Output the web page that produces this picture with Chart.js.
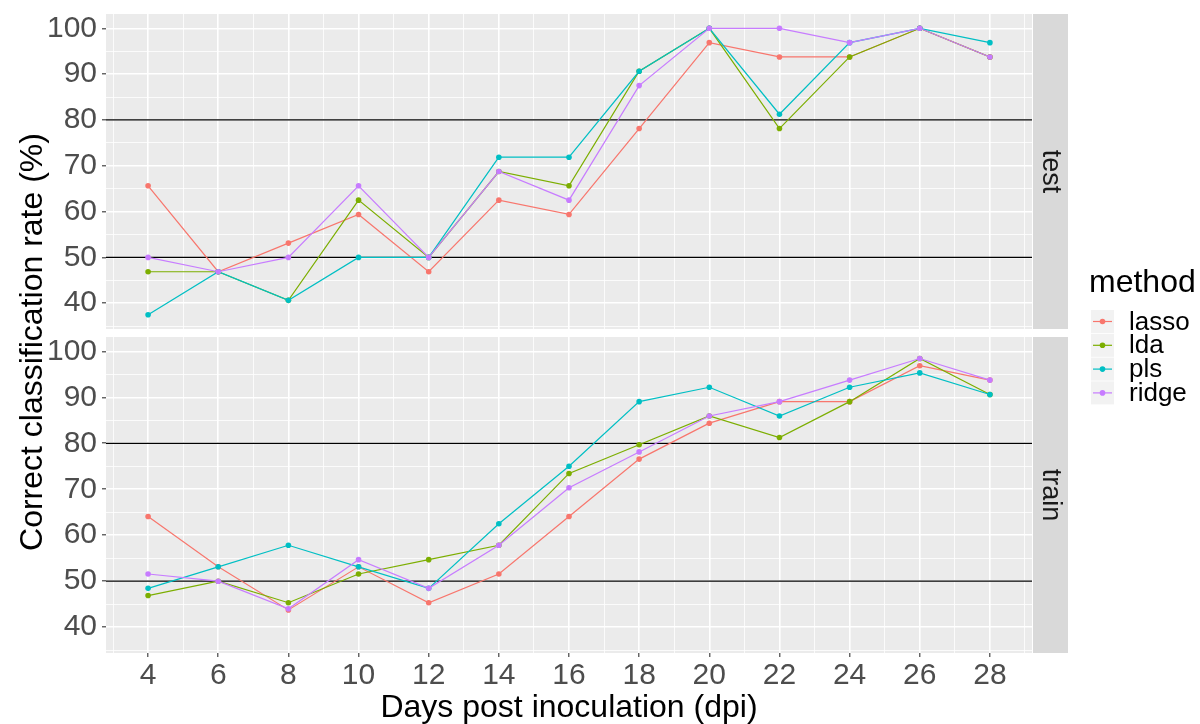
<!DOCTYPE html>
<html lang="en">
<head>
<meta charset="UTF-8">
<title>Correct classification rate by dpi</title>
<script src="https://cdn.jsdelivr.net/npm/chart.js"></script>
<style>
  body { margin: 0; background: #fff; }
  #wrap { position: relative; width: 1200px; height: 724px; }
  #wrap canvas { position: absolute; left: 0; top: 0; }
</style>
</head>
<body>
<div id="wrap">
  <canvas id="testChart" width="1200" height="724"></canvas>
  <canvas id="trainChart" width="1200" height="724"></canvas>
</div>
<script>
  // data
  const dpi = [4, 6, 8, 10, 12, 14, 16, 18, 20, 22, 24, 26, 28];
  const methods = ["lasso", "lda", "pls", "ridge"];
  const colors = ["#F8766D", "#7CAE00", "#00BFC4", "#C77CFF"];

  const testLasso = [65.625, 46.875, 53.125, 59.375, 46.875, 62.5, 59.375, 78.125, 96.875, 93.75, 93.75, 100, 93.75];
  const testLda   = [46.875, 46.875, 40.625, 62.5, 50, 68.75, 65.625, 90.625, 100, 78.125, 93.75, 100, 93.75];
  const testPls   = [37.5, 46.875, 40.625, 50, 50, 71.875, 71.875, 90.625, 100, 81.25, 96.875, 100, 96.875];
  const testRidge = [50, 46.875, 50, 65.625, 50, 68.75, 62.5, 87.5, 100, 100, 96.875, 100, 93.75];

  const trainLasso = [64.0625, 53.125, 43.75, 53.125, 45.3125, 51.5625, 64.0625, 76.5625, 84.375, 89.0625, 89.0625, 96.875, 93.75];
  const trainLda   = [46.875, 50, 45.3125, 51.5625, 54.6875, 57.8125, 73.4375, 79.6875, 85.9375, 81.25, 89.0625, 98.4375, 90.625];
  const trainPls   = [48.4375, 53.125, 57.8125, 53.125, 48.4375, 62.5, 75, 89.0625, 92.1875, 85.9375, 92.1875, 95.3125, 90.625];
  const trainRidge = [51.5625, 50, 44, 54.6875, 48.4375, 57.8125, 70.3125, 78.125, 85.9375, 89.0625, 93.75, 98.4375, 93.75];

  const refLines = [50, 80];
  const yTicks = [35, 40, 45, 50, 55, 60, 65, 70, 75, 80, 85, 90, 95, 100];
  const xTicks = [3, 4, 5, 6, 7, 8, 9, 10, 11, 12, 13, 14, 15, 16, 17, 18, 19, 20, 21, 22, 23, 24, 25, 26, 27, 28, 29];

  const FONT = "'Liberation Sans', Arial, sans-serif";

  // ggplot style 5% expansion
  const allY = [].concat(testLasso, testLda, testPls, testRidge, trainLasso, trainLda, trainPls, trainRidge);
  const yLo = Math.min(...allY), yHi = Math.max(...allY);
  const yMin = yLo - (yHi - yLo) * 0.05, yMax = yHi + (yHi - yLo) * 0.05;
  const xMin = dpi[0] - (dpi[dpi.length - 1] - dpi[0]) * 0.05;
  const xMax = dpi[dpi.length - 1] + (dpi[dpi.length - 1] - dpi[0]) * 0.05;

  function makeDatasets(series) {
    return series.map((vals, i) => ({
      label: methods[i],
      data: dpi.map((d, j) => ({ x: d, y: vals[j] })),
      borderColor: colors[i],
      backgroundColor: colors[i],
      pointBackgroundColor: colors[i],
      pointBorderColor: colors[i],
      borderWidth: 1.2,
      pointRadius: 2.8,
      pointBorderWidth: 0,
      tension: 0,
      order: methods.length - i
    }));
  }

  // panel background, facet strip and the reference lines
  const panelPlugin = {
    id: "panel",
    beforeDraw(chart, args, opts) {
      const { ctx, chartArea: a } = chart;
      ctx.save();
      ctx.fillStyle = "#EBEBEB";
      ctx.fillRect(a.left, a.top, a.right - a.left, a.bottom - a.top);
      ctx.fillStyle = "#D9D9D9";
      ctx.fillRect(a.right + 1, a.top, 35, a.bottom - a.top);
      ctx.translate(a.right + 18, (a.top + a.bottom) / 2);
      ctx.rotate(Math.PI / 2);
      ctx.fillStyle = "#1A1A1A";
      ctx.font = "27px " + FONT;
      ctx.textAlign = "center";
      ctx.textBaseline = "middle";
      ctx.fillText(opts.label, 0, 0);
      ctx.restore();
    },
    beforeDatasetsDraw(chart) {
      const { ctx, chartArea: a, scales } = chart;
      ctx.save();
      ctx.strokeStyle = "#000";
      ctx.lineWidth = 1.3;
      refLines.forEach(v => {
        const py = scales.y.getPixelForValue(v);
        ctx.beginPath();
        ctx.moveTo(a.left, py);
        ctx.lineTo(a.right, py);
        ctx.stroke();
      });
      ctx.restore();
    }
  };

  // shared y title and the legend, drawn on the top canvas
  const decorPlugin = {
    id: "decor",
    afterDraw(chart) {
      const ctx = chart.ctx;
      ctx.save();
      ctx.translate(42, 342);
      ctx.rotate(-Math.PI / 2);
      ctx.fillStyle = "#000";
      ctx.font = "32px " + FONT;
      ctx.textAlign = "center";
      ctx.textBaseline = "alphabetic";
      ctx.fillText("Correct classification rate (%)", 0, 0);
      ctx.restore();

      ctx.save();
      ctx.fillStyle = "#000";
      ctx.font = "32px " + FONT;
      ctx.textAlign = "left";
      ctx.textBaseline = "alphabetic";
      ctx.fillText("method", 1089, 292);
      ctx.font = "26px " + FONT;
      ctx.textBaseline = "middle";
      chart.data.datasets.forEach((ds, i) => {
        const top = 310 + i * 23.8;
        const cy = top + 11.5;
        ctx.fillStyle = "#F2F2F2";
        ctx.fillRect(1091, top, 23, 23);
        ctx.strokeStyle = ds.borderColor;
        ctx.lineWidth = 1.2;
        ctx.beginPath();
        ctx.moveTo(1093, cy);
        ctx.lineTo(1112, cy);
        ctx.stroke();
        ctx.fillStyle = ds.borderColor;
        ctx.beginPath();
        ctx.arc(1102.5, cy, 2.8, 0, Math.PI * 2);
        ctx.fill();
        ctx.fillStyle = "#000";
        ctx.fillText(ds.label, 1129, cy + 1);
      });
      ctx.restore();
    }
  };

  function gridOpts(isMajor, showTicks) {
    return {
      color: "#FFFFFF",
      lineWidth: c => (isMajor(c.tick && c.tick.value) ? 1.6 : 0.8),
      drawTicks: showTicks,
      tickLength: 4,
      tickWidth: 1.1,
      tickColor: c => (isMajor(c.tick && c.tick.value) ? "#333333" : "rgba(0,0,0,0)")
    };
  }

  const xMajor = v => v % 2 === 0;
  const yMajor = v => v % 10 === 0;

  function makeChart(id, series, stripLabel, bottom) {
    const ctx = document.getElementById(id).getContext("2d");
    return new Chart(ctx, {
      type: "line",
      data: { datasets: makeDatasets(series) },
      plugins: bottom ? [panelPlugin] : [panelPlugin, decorPlugin],
      options: {
        responsive: false,
        animation: false,
        devicePixelRatio: 1,
        layout: {
          padding: bottom ? { left: 0, right: 168, top: 337, bottom: 0 }
                          : { left: 0, right: 168, top: 14, bottom: 395 }
        },
        plugins: {
          legend: { display: false },
          tooltip: { enabled: false },
          panel: { label: stripLabel }
        },
        scales: {
          x: {
            type: "linear",
            min: xMin,
            max: xMax,
            border: { display: false },
            grid: gridOpts(xMajor, bottom),
            afterBuildTicks: s => { s.ticks = xTicks.map(v => ({ value: v })); },
            afterFit: s => {
              s.height = bottom ? 71 : 0;
              s.paddingLeft = 0;
              s.paddingRight = 0;
            },
            ticks: {
              display: bottom,
              autoSkip: false,
              maxRotation: 0,
              padding: 1,
              color: "#4D4D4D",
              font: { family: FONT, size: 30 },
              callback: v => (xMajor(v) ? String(v) : "")
            },
            title: {
              display: bottom,
              text: "Days post inoculation (dpi)",
              color: "#000",
              font: { family: FONT, size: 32, lineHeight: 1 },
              padding: { top: 0, bottom: 0 }
            }
          },
          y: {
            type: "linear",
            min: yMin,
            max: yMax,
            border: { display: false },
            grid: gridOpts(yMajor, true),
            afterBuildTicks: s => { s.ticks = yTicks.map(v => ({ value: v })); },
            afterFit: s => {
              s.width = 106;
              s.paddingTop = 0;
              s.paddingBottom = 0;
            },
            ticks: {
              autoSkip: false,
              padding: 5,
              color: "#4D4D4D",
              font: { family: FONT, size: 30 },
              callback: v => (yMajor(v) ? String(v) : "")
            }
          }
        }
      }
    });
  }

  makeChart("testChart", [testLasso, testLda, testPls, testRidge], "test", false);
  makeChart("trainChart", [trainLasso, trainLda, trainPls, trainRidge], "train", true);
</script>
</body>
</html>
